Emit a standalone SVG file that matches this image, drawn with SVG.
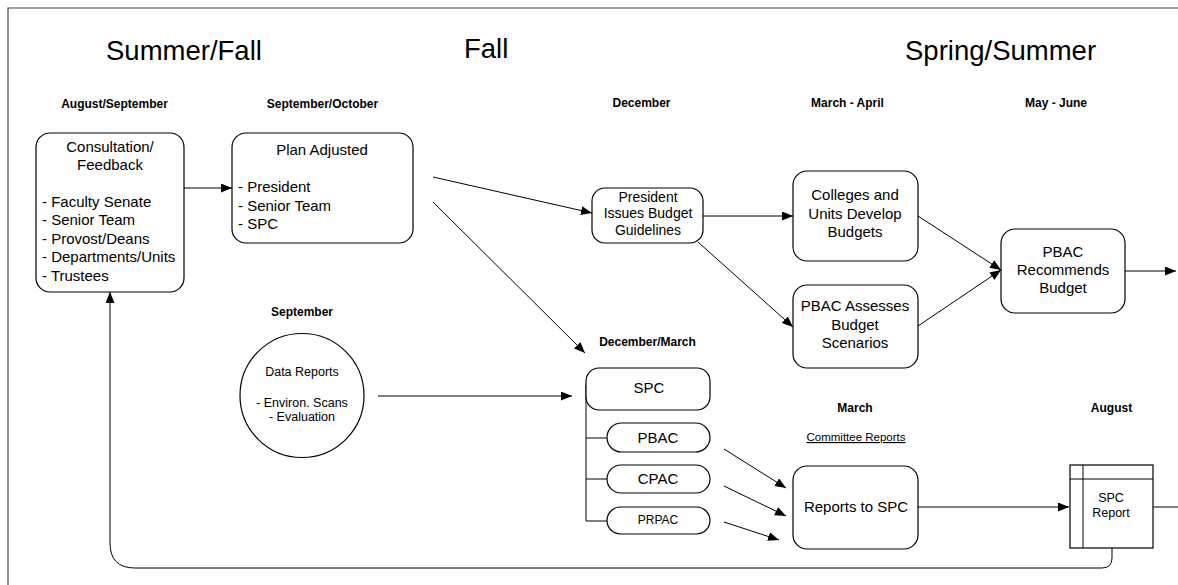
<svg xmlns="http://www.w3.org/2000/svg" width="1178" height="585" viewBox="0 0 1178 585">
<defs>
<marker id="ah" markerUnits="userSpaceOnUse" markerWidth="12" markerHeight="10" refX="11" refY="4.5" orient="auto">
<path d="M0,0 L11,4.5 L0,9 z" fill="#000"/>
</marker>
<style>
text{font-family:"Liberation Sans",Arial,sans-serif;fill:#000}
.big{font-size:27.5px}
.mon{font-size:12px;font-weight:bold;text-anchor:middle}
.t15{font-size:15px}
.t14{font-size:14px}
.t12{font-size:12.5px}
.c{text-anchor:middle}
.box{fill:#fff;stroke:#000;stroke-width:1.2}
.ln{fill:none;stroke:#000;stroke-width:1}
.ar{fill:none;stroke:#000;stroke-width:1;marker-end:url(#ah)}
</style>
</defs>
<rect width="1178" height="585" fill="#fff"/>
<path d="M8,585 L8,8 L1178,8" fill="none" stroke="#444" stroke-width="1.2"/>

<g id="titles">
<text class="big" x="106" y="60">Summer/Fall</text>
<text class="big" x="464" y="58">Fall</text>
<text class="big" x="905" y="60">Spring/Summer</text>
<text class="mon" x="114.5" y="108">August/September</text>
<text class="mon" x="322.5" y="108">September/October</text>
<text class="mon" x="641.5" y="107">December</text>
<text class="mon" x="847.5" y="107">March - April</text>
<text class="mon" x="1056" y="107">May - June</text>
<text class="mon" x="302" y="316">September</text>
<text class="mon" x="647.5" y="346">December/March</text>
<text class="mon" x="855" y="412">March</text>
<text class="mon" x="1111.5" y="412">August</text>
<text class="c" x="856" y="441" style="font-size:11.5px;text-decoration:underline">Committee Reports</text>
</g>

<g id="connectors">
<path class="ar" d="M184,188 L232,188"/>
<path class="ar" d="M433,177 L592,213"/>
<path class="ar" d="M433,202 L585,353"/>
<path class="ar" d="M703,216 L793,216"/>
<path class="ar" d="M698,242 L793,327"/>
<path class="ar" d="M918,216 L1001,270"/>
<path class="ar" d="M918,326 L1001,270"/>
<path class="ar" d="M1125,271 L1176,271"/>
<path class="ar" d="M378,396 L572,396"/>
<path class="ln" d="M586,385 L586,521 M586,438 L607,438 M586,479 L607,479 M586,521 L607,521"/>
<path class="ar" d="M724,449 L786,488"/>
<path class="ar" d="M724,486 L786,516"/>
<path class="ar" d="M724,522 L779,540"/>
<path class="ar" d="M918,507 L1069,507"/>
<path class="ln" d="M1153,507 L1178,507"/>
<path class="ar" d="M1112,548 L1112,558 Q1112,568 1102,568 L135,568 Q110,568 110,543 L110,292"/>
</g>

<g id="consultation">
<rect class="box" x="36" y="133" width="148" height="159" rx="14"/>
<text class="t15 c" x="110" y="152">Consultation/</text>
<text class="t15 c" x="110" y="170">Feedback</text>
<text class="t15" x="42" y="207">- Faculty Senate</text>
<text class="t15" x="42" y="225">- Senior Team</text>
<text class="t15" x="42" y="244">- Provost/Deans</text>
<text class="t15" x="42" y="262">- Departments/Units</text>
<text class="t15" x="42" y="281">- Trustees</text>
</g>

<g id="plan">
<rect class="box" x="232" y="133" width="181" height="110" rx="14"/>
<text class="t15 c" x="322" y="155">Plan Adjusted</text>
<text class="t15" x="238" y="192">- President</text>
<text class="t15" x="238" y="211">- Senior Team</text>
<text class="t15" x="238" y="229">- SPC</text>
</g>

<g id="president">
<rect class="box" x="592" y="188" width="111" height="55" rx="13"/>
<text class="t14 c" x="648" y="202">President</text>
<text class="t14 c" x="648" y="218">Issues Budget</text>
<text class="t14 c" x="648" y="235">Guidelines</text>
</g>

<g id="colleges">
<rect class="box" x="793" y="171" width="125" height="90" rx="14"/>
<text class="t15 c" x="855" y="200">Colleges and</text>
<text class="t15 c" x="855" y="219">Units Develop</text>
<text class="t15 c" x="855" y="237">Budgets</text>
</g>

<g id="pbac-assess">
<rect class="box" x="793" y="285" width="125" height="83" rx="14"/>
<text class="t15 c" x="855" y="311">PBAC Assesses</text>
<text class="t15 c" x="855" y="330">Budget</text>
<text class="t15 c" x="855" y="348">Scenarios</text>
</g>

<g id="pbac-recommends">
<rect class="box" x="1001" y="229" width="124" height="84" rx="14"/>
<text class="t15 c" x="1063" y="257">PBAC</text>
<text class="t15 c" x="1063" y="275">Recommends</text>
<text class="t15 c" x="1063" y="293">Budget</text>
</g>

<g id="data-reports">
<circle class="box" cx="302" cy="395.5" r="62"/>
<text class="t12 c" x="302" y="376">Data Reports</text>
<text class="t12 c" x="302" y="407">- Environ. Scans</text>
<text class="t12 c" x="302" y="421">- Evaluation</text>
</g>

<g id="spc">
<rect class="box" x="586" y="368" width="124" height="42" rx="13"/>
<text class="t15 c" x="649" y="393">SPC</text>
</g>
<g id="pbac">
<rect class="box" x="607" y="423" width="103" height="29" rx="14.5"/>
<text class="t15 c" x="658" y="443">PBAC</text>
</g>
<g id="cpac">
<rect class="box" x="607" y="465" width="103" height="28" rx="14"/>
<text class="t15 c" x="658" y="484">CPAC</text>
</g>
<g id="prpac">
<rect class="box" x="607" y="507" width="103" height="27" rx="13.5"/>
<text class="c" x="658" y="524" style="font-size:12px">PRPAC</text>
</g>

<g id="reports-to-spc">
<rect class="box" x="793" y="466" width="125" height="83" rx="14"/>
<text class="t15 c" x="856" y="512">Reports to SPC</text>
</g>

<g id="spc-report">
<rect class="box" x="1070" y="465" width="83" height="83"/>
<path class="ln" d="M1070,479 L1153,479 M1083,465 L1083,548" stroke-width="1.2"/>
<text class="t12 c" x="1111" y="502">SPC</text>
<text class="t12 c" x="1111" y="517">Report</text>
</g>
</svg>
